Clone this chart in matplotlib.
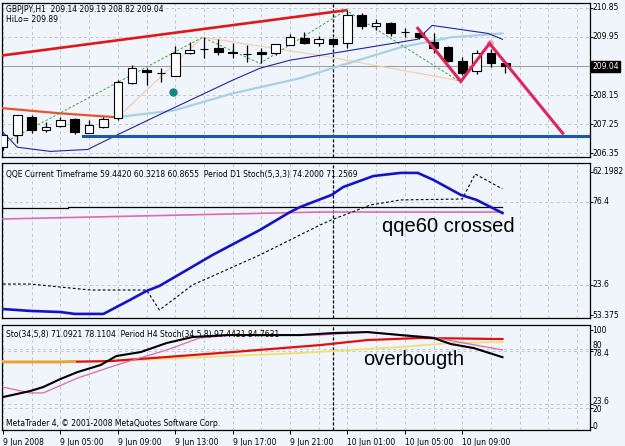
import matplotlib
matplotlib.use("Agg")
import matplotlib.pyplot as plt
import matplotlib.transforms as mtransforms

W, H = 625, 446
BG = '#eff5fb'

# ---- candles, bar index = hours from 9 Jun 01:00 ----
c_open  = [206.53, 206.90, 207.46, 207.05, 207.18, 207.40, 206.96, 207.15, 207.43, 208.51,
           208.92, 208.82, 208.73, 209.44, 209.57, 209.60, 209.47, 209.41, 209.47, 209.44,
           209.69, 209.91, 209.75, 209.88, 209.75, 210.62, 210.28, 210.37, 210.09, 210.06,
           209.78, 209.63, 209.20, 208.88, 209.44, 209.14]
c_high  = [206.95, 207.52, 207.52, 207.30, 207.46, 207.43, 207.36, 207.46, 208.61, 209.07,
           208.98, 208.98, 209.66, 209.78, 209.94, 209.88, 209.75, 209.69, 209.60, 209.72,
           210.03, 210.09, 209.97, 209.91, 210.78, 210.68, 210.50, 210.40, 210.22, 210.12,
           210.06, 209.66, 209.32, 209.54, 209.57, 209.19]
c_low   = [206.45, 206.65, 206.96, 206.99, 207.15, 206.93, 206.96, 207.12, 207.36, 208.48,
           208.45, 208.54, 208.73, 209.41, 209.29, 209.38, 209.29, 209.16, 209.13, 209.38,
           209.69, 209.72, 209.66, 209.69, 209.60, 210.19, 210.16, 209.97, 209.94, 209.88,
           209.44, 209.16, 208.76, 208.79, 209.01, 208.82]
c_close = [206.90, 207.52, 207.05, 207.17, 207.36, 206.99, 207.21, 207.40, 208.54, 208.98,
           208.85, 208.82, 209.44, 209.54, 209.57, 209.47, 209.44, 209.41, 209.41, 209.72,
           209.94, 209.75, 209.88, 209.72, 210.62, 210.28, 210.37, 210.06, 210.09, 209.94,
           209.60, 209.20, 208.82, 209.44, 209.13, 209.04]

# ---- main panel overlays ----
upper_x, upper_y = [0, 23.9], [209.38, 210.78]
lower_x, lower_y = [0, 4, 7.9], [207.74, 207.58, 207.46]
lblue_x = [7.9, 11.9, 16, 20.7, 23.8, 27.7, 31.2, 34.8]
lblue_y = [207.46, 207.67, 208.20, 208.67, 209.10, 209.63, 209.94, 210.06]
navy_x = [0, 1, 3.3, 5.9, 7.9, 11.85, 16, 17.9, 20, 22.9, 28.9, 29.9, 33.8, 34.8]
navy_y = [206.99, 206.53, 206.40, 206.46, 206.90, 207.74, 208.61, 208.98, 209.23,
          209.44, 209.88, 210.31, 210.06, 209.88]
green_x, green_y = [0, 13.9, 17.9, 23.9, 31.8], [206.65, 209.94, 209.13, 210.78, 208.57]
peach_x, peach_y = [8, 13.9, 22.1, 31.6], [207.46, 209.94, 209.38, 208.61]
zig_x, zig_y = [28.9, 31.9, 33.9, 39.0], [210.22, 208.57, 209.75, 206.96]
support_x0, support_lvl = 5.6, 206.87
dot_x, dot_y = 11.85, 208.23
last_price = 209.04
price_ticks = [210.85, 209.95, 209.04, 208.15, 207.25, 206.35]

# ---- QQE panel ----
qqe_x = [0, 1.9, 4, 5, 7, 8.85, 10, 10.9, 12.8, 14.6, 17.9, 20, 20.7, 22.9, 23.7,
         25.8, 27.7, 28.9, 30, 31.9, 33, 34.8]
qqe_y = [8.3, 7.1, 6.4, 5.2, 5.2, 14.1, 19.8, 23.0, 33.1, 42.7, 58.6, 70.0, 73.2,
         80.9, 85.9, 92.9, 94.9, 94.9, 90.4, 80.9, 77.7, 69.4]
qqed_x = [0, 1.9, 6.1, 10.0, 10.9, 13.2, 17.9, 22.1, 22.9, 25.6, 27.7, 32.0, 32.9, 34.8]
qqed_y = [24.2, 24.2, 20.4, 20.4, 7.7, 23.6, 42.7, 61.8, 65.0, 74.5, 77.7, 78.3, 94.2, 84.7]
qqek_x, qqek_y = [0, 4.5, 4.5, 34.8], [72.6, 72.6, 73.2, 73.2]
qqep_x, qqep_y = [0, 22, 34.8], [65.6, 70.0, 70.0]

# ---- Stochastic panel ----
sto_x = [0, 1.9, 2.8, 4, 5.2, 6.8, 7.9, 9.6, 11.4, 13.2, 15.6, 20.7, 23, 25.4, 27.7,
         30, 31.2, 32.8, 34.8]
sto_y = [30.9, 37.1, 41.2, 49.5, 56.7, 63.9, 73.2, 77.3, 86.6, 92.8, 94.8, 94.8, 96.9,
         97.9, 94.8, 91.8, 85.6, 81.4, 72.0]
sig_x = [0, 1.9, 2.8, 5.2, 7.9, 11.4, 13.7, 16, 22.1, 25.4, 29.8, 34.8]
sig_y = [41.2, 35.1, 35.1, 50.5, 63.9, 79.4, 91.8, 94.8, 94.8, 97.9, 92.8, 79.5]
h4_x = [0, 4, 7.5, 11.4, 16, 22.1, 25.4, 29.1, 34.8]
h4_y = [67.0, 67.0, 68.0, 72.2, 77.3, 84.5, 89.7, 91.8, 90.7]
h4s_x = [0, 7.5, 20.7, 27.7, 31.2, 34.8]
h4s_y = [68.0, 68.0, 76.3, 82.5, 86.6, 87.6]

time_bars = [0, 4, 8, 12, 16, 20, 24, 28, 32]
time_labels = ['9 Jun 2008', '9 Jun 05:00', '9 Jun 09:00', '9 Jun 13:00', '9 Jun 17:00',
               '9 Jun 21:00', '10 Jun 01:00', '10 Jun 05:00', '10 Jun 09:00']

XMIN, XMAX = -0.07, 40.9
GRID = dict(color='#c4c8cc', lw=0.7, ls=(0, (3, 3)), zorder=0)
FS = 5.5

fig = plt.figure(figsize=(W / 100, H / 100), dpi=100, facecolor=BG)


def panel(top, bottom, ylim, grid_levels):
    ax = fig.add_axes([2 / W, 1 - bottom / H, 588 / W, (bottom - top) / H])
    ax.set_facecolor(BG)
    ax.set_xlim(XMIN, XMAX)
    ax.set_ylim(*ylim)
    for s in ax.spines.values():
        s.set_color('black')
        s.set_linewidth(0.9)
    ax.tick_params(left=False, labelleft=False, bottom=False, labelbottom=False)
    for b in range(0, 41, 2):
        ax.axvline(b, **GRID)
    for g in grid_levels:
        ax.axhline(g, **GRID)
    ax.axvline(23, color='black', lw=0.9, ls=(0, (2.5, 1.5)), zorder=1)
    return ax


def right_labels(ax, items):
    tr = mtransforms.blended_transform_factory(ax.transAxes, ax.transData)
    ax.yaxis.tick_right()
    ax.set_yticks([v for v, _, _ in items])
    ax.tick_params(axis='y', right=True, length=2.5, width=0.7, labelright=False)
    for v, lab, dy in items:
        ax.text(1.004, v + dy, lab, transform=tr, fontsize=FS, va='center', ha='left',
                clip_on=False)


# ---------------- main price panel ----------------
ax1 = panel(3, 157, (206.226, 211.005), [210.85, 209.95, 209.05, 208.15, 207.25, 206.35])
ax1.axhline(last_price, color='#a0a0a0', lw=0.8, zorder=1)
ax1.plot(upper_x, upper_y, color='#e01818', lw=1.9, zorder=3)
ax1.plot(lower_x, lower_y, color='#e8542c', lw=1.6, zorder=3)
ax1.plot(lblue_x, lblue_y, color='#a6d2e4', lw=1.6, zorder=3)
ax1.plot(peach_x, peach_y, color='#f6cfae', lw=0.9, zorder=2)
ax1.plot(green_x, green_y, color='#3ca03c', lw=0.7, ls=(0, (2.5, 2)), zorder=3)
ax1.plot(navy_x, navy_y, color='#24249c', lw=0.8, zorder=3)
ax1.plot([support_x0, XMAX], [support_lvl, support_lvl], color='#1c58a8', lw=2.2, zorder=3)

for i in range(len(c_open)):
    o, h, l, c = c_open[i], c_high[i], c_low[i], c_close[i]
    ax1.vlines(i, l, h, color='black', lw=0.9, zorder=4)
    fc = 'white' if c >= o else 'black'
    ax1.bar(i, abs(c - o), bottom=min(o, c), width=0.6, color=fc,
            edgecolor='black', linewidth=0.8, zorder=5)

ax1.plot(zig_x, zig_y, color='#e0245c', lw=2.2, zorder=6, solid_joinstyle='miter')
ax1.plot(zig_x[2], zig_y[2], 'o', color='#f4a0b8', ms=4, zorder=5)
ax1.plot(dot_x, dot_y, 'o', color='#138585', ms=5, zorder=6)

right_labels(ax1, [(v, f'{v:.2f}', 0) for v in price_ticks if v != last_price])
tr1 = mtransforms.blended_transform_factory(ax1.transAxes, ax1.transData)
ax1.text(1.004, last_price, f'{last_price:.2f}', transform=tr1, fontsize=FS, va='center',
         ha='left', color='white', clip_on=False,
         bbox=dict(boxstyle='square,pad=0.15', fc='black', ec='black'))

# ---------------- QQE panel ----------------
ax2 = panel(163, 318, (2.6, 101.2), [76.4, 23.6])
ax2.plot(qqek_x, qqek_y, color='black', lw=0.9, zorder=3)
ax2.plot(qqep_x, qqep_y, color='#e06ab0', lw=1.2, zorder=3)
ax2.plot(qqed_x, qqed_y, color='black', lw=0.8, ls=(0, (2.5, 2)), zorder=3)
ax2.plot(qqe_x, qqe_y, color='#1414c4', lw=1.9, zorder=4)
right_labels(ax2, [(95.5, '62.1982', 0), (76.4, '76.4', 0), (23.6, '23.6', 0),
                   (4.2, '53.375', 0)])
ax2.text(26.4, 60.5, 'qqe60 crossed', fontsize=14.5, family='Liberation Sans',
         va='center', ha='left', zorder=7)

# ---------------- Stochastic panel ----------------
ax3 = panel(325, 430, (-3.1, 105.2), [80, 78.4, 23.6, 20])
ax3.plot(h4s_x, h4s_y, color='#f2e070', lw=1.3, zorder=3)
ax3.plot(h4_x, h4_y, color='#e01010', lw=1.6, zorder=3)
ax3.plot([0, 5], [67.5, 67.5], color='#f0a030', lw=1.6, zorder=3)
ax3.plot(sig_x, sig_y, color='#e066b4', lw=0.9, zorder=4)
ax3.plot(sto_x, sto_y, color='black', lw=1.5, zorder=4)
right_labels(ax3, [(100, '100', 0), (80, '80', 4.0), (78.4, '78.4', -2.5),
                   (23.6, '23.6', 2.5), (20, '20', -2.0), (0, '0', 0)])
ax3.text(25.1, 70.1, 'overbougth', fontsize=14.5, family='Liberation Sans',
         va='center', ha='left', zorder=7)

ax3.set_xticks(time_bars)
ax3.tick_params(axis='x', bottom=True, length=3, width=0.7, direction='out', labelbottom=False)
trx = mtransforms.blended_transform_factory(ax3.transData, ax3.transAxes)
for b, lab in zip(time_bars, time_labels):
    ax3.text(b, -0.075, lab, transform=trx, fontsize=FS, ha='left', va='top')


def ftext(x, y, s, **kw):
    fig.text(x / W, 1 - y / H, s, fontsize=FS, va='center', ha='left', **kw)


ftext(6, 9, 'GBPJPY,H1  209.14 209.19 208.82 209.04')
ftext(6, 19, 'HiLo= 209.89')
ftext(6, 174, 'QQE Current Timeframe 59.4420 60.3218 60.8655  Period D1 Stoch(5,3,3) 74.2000 71.2569')
ftext(6, 334, 'Sto(34,5,8) 71.0921 78.1104  Period H4 Stoch(34,5,8) 97.4431 84.7631')
ftext(6, 423, 'MetaTrader 4, \u00a9 2001-2008 MetaQuotes Software Corp.')

fig.savefig('out.png', dpi=100, facecolor=BG)
